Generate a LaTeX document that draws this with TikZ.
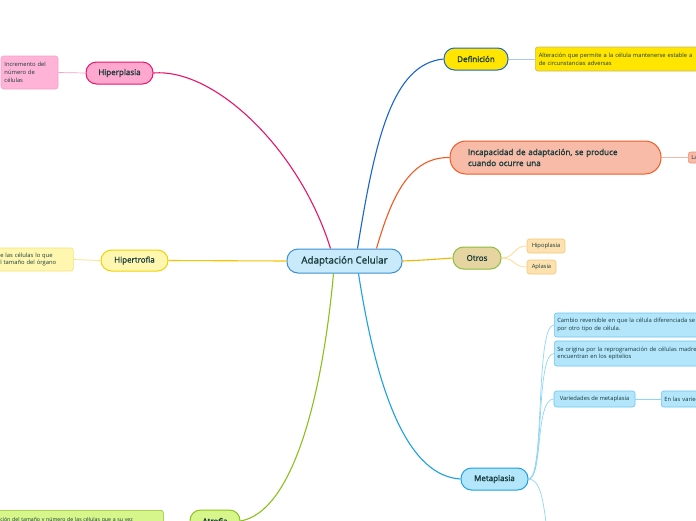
\documentclass[tikz,border=0pt]{standalone}
\usepackage{fontspec}
\setmainfont{Open Sans}
\newfontfamily\titlefont[FakeBold=1.3]{Open Sans}
\usetikzlibrary{calc}
\definecolor{txt}{HTML}{163A3A}
\definecolor{ctrfill}{HTML}{C8EAFB}\definecolor{ctrline}{HTML}{3B8FD3}
\definecolor{pinkline}{HTML}{E8156C}\definecolor{pinkfill}{HTML}{FFA8CF}\definecolor{pinkleaf}{HTML}{FFB3D6}\definecolor{pinklight}{HTML}{F5A0C8}
\definecolor{yelline}{HTML}{F2C500}\definecolor{yelfill}{HTML}{FFF7B0}\definecolor{yelborder}{HTML}{EFD300}\definecolor{yellight}{HTML}{F5E27A}
\definecolor{grnline}{HTML}{8CC11B}\definecolor{grnfill}{HTML}{D6F58A}
\definecolor{defline}{HTML}{1A66CC}\definecolor{deffill}{HTML}{FFE500}\definecolor{defleaf}{HTML}{C9B96A}\definecolor{deflight}{HTML}{A9C9F0}
\definecolor{incline}{HTML}{F05A23}\definecolor{incfill}{HTML}{F8BBA8}\definecolor{inclight}{HTML}{F8B8A8}
\definecolor{otrline}{HTML}{F2B500}\definecolor{otrfill}{HTML}{E6D4A1}\definecolor{otrborder}{HTML}{8CBF3A}
\definecolor{otrleaf}{HTML}{FDE2B0}\definecolor{otrleafb}{HTML}{F5C878}\definecolor{otrlight}{HTML}{FDD98A}
\definecolor{metline}{HTML}{1DA1E2}\definecolor{metfill}{HTML}{B3E5FB}\definecolor{metleafb}{HTML}{6CC6F0}\definecolor{metlight}{HTML}{8FD6F5}
\begin{document}
\begin{tikzpicture}[x=1pt,y=-1pt,
  mainnode/.style={draw, line width=1pt, rounded corners=10.5pt, minimum height=22pt, inner sep=2pt,
    font=\titlefont\fontsize{8}{9.5}\selectfont, text=txt},
  leafnode/.style={draw, line width=0.6pt, rounded corners=2.5pt, inner xsep=3pt, inner ysep=2pt,
    font=\fontsize{5.8}{7.8}\selectfont, text=txt, align=left},
  branch/.style={line width=1.1pt},
  twig/.style={line width=0.7pt}]
\useasboundingbox (0,0) rectangle (696,520);
\fill[white] (0,0) rectangle (696,520);

% central
\node[mainnode, fill=ctrfill, draw=ctrline, minimum width=115pt, minimum height=24pt, rounded corners=11pt,
  font=\titlefont\fontsize{9.8}{11}\selectfont] (ctr) at (344.5,261) {Adaptación Celular};

% Hiperplasia
\node[mainnode, fill=pinkfill, draw=pinkline, minimum width=67pt] (hpl) at (119.5,73) {Hiperplasia};
\node[leafnode, fill=pinkleaf, draw=pinklight, minimum width=57pt, minimum height=33pt, text width=50pt] (hplc) at (29.5,72.5)
  {Incremento del\\número de\\células};

% Hipertrofia
\node[mainnode, fill=yelfill, draw=yelborder, minimum width=67pt, minimum height=21pt] (hpt) at (134.5,260.5) {Hipertrofia};
\node[leafnode, fill=yelfill, draw=yellight, anchor=west, minimum width=76pt, minimum height=23pt, text width=70pt] (hptc) at (-3,259.5)
  {e las células lo que\\l tamaño del órgano};

% Atrofia
\node[mainnode, fill=grnfill, draw=grnline, minimum width=50pt] (atr) at (215,521) {Atrofia};
\node[leafnode, fill=grnfill, draw=grnline, anchor=north west, minimum width=166pt, minimum height=20pt, text width=160pt,
  font=\fontsize{5.2}{7.6}\selectfont] (atrc) at (-3,510)
  {ción del tamaño y número de las células que a su vez};

% Definicion
\node[mainnode, fill=deffill, draw=defline, minimum width=64pt] (def) at (476,59) {Definición};
\node[leafnode, fill=deffill, draw=defleaf, anchor=west, minimum width=185pt, minimum height=24pt, text width=178pt] (defc) at (535,59)
  {Alteración que permite a la célula mantenerse estable a\\de circunstancias adversas};

% Incapacidad
\node[mainnode, fill=incfill, draw=incline, minimum width=211pt, minimum height=33pt, rounded corners=16pt,
  text width=175pt, align=left, inner xsep=18pt, font=\titlefont\fontsize{8.1}{11}\selectfont] (inc) at (555.5,157.5)
  {Incapacidad de adaptación, se produce\\cuando ocurre una};
\node[leafnode, fill=incfill, draw=incline!70, anchor=west, minimum width=30pt, minimum height=11pt, inner ysep=1pt,
  text width=24pt] (incc) at (688,157.5) {La};

% Otros
\node[mainnode, fill=otrfill, draw=otrborder, minimum width=48pt] (otr) at (477,258) {Otros};
\node[leafnode, fill=otrleaf, draw=otrleafb, minimum width=38pt, minimum height=14pt] (hpo) at (546,246) {Hipoplasia};
\node[leafnode, fill=otrleaf, draw=otrleafb, minimum width=29pt, minimum height=14pt] (apl) at (541.5,267) {Aplasia};

% Metaplasia
\node[mainnode, fill=metfill, draw=metline, minimum width=67pt] (met) at (494.5,479) {Metaplasia};
\node[leafnode, fill=metfill, draw=metleafb, anchor=west, minimum width=170pt, minimum height=24pt, text width=164pt] (m1) at (554,325)
  {Cambio reversible en que la célula diferenciada se\\por otro tipo de célula.};
\node[leafnode, fill=metfill, draw=metleafb, anchor=west, minimum width=170pt, minimum height=25pt, text width=164pt] (m2) at (554,353.5)
  {Se origina por la reprogramación de células madre\\encuentran en los epitelios};
\node[leafnode, fill=metfill, draw=metleafb, minimum width=81pt, minimum height=16pt] (m3) at (594.5,399) {Variedades de metaplasia};
\node[leafnode, fill=metfill, draw=metleafb, anchor=west, minimum width=60pt, minimum height=16pt, text width=54pt] (m3a) at (661,399) {En las variedades};
\coordinate (m4) at (546,522);

% branches
\draw[branch, pinkline] (hpl.east) .. controls (215,68) and (300,150) .. ($(ctr.north)+(-14,0)$);
\draw[branch, yelline] (hpt.east) -- (ctr.west);
\draw[branch, grnline] ($(ctr.south)+(-11,0)$) .. controls (322,400) and (292,512) .. (atr.east);
\draw[branch, defline] ($(ctr.north)+(13,0)$) .. controls (375,140) and (392,64) .. (def.west);
\draw[branch, incline] ($(ctr.north)+(32,0)$) .. controls (392,195) and (410,157) .. (inc.west);
\draw[branch, otrline] (ctr.east) .. controls (425,260) .. (otr.west);
\draw[branch, metline] ($(ctr.south)+(14,0)$) .. controls (378,400) and (410,476) .. (met.west);

% twigs
\draw[twig, pinklight] (hplc.east) -- (hpl.west);
\draw[twig, yellight] (hptc.east) -- (hpt.west);
\draw[twig, deflight] (def.east) -- (defc.west);
\draw[twig, inclight] (inc.east) -- (incc.west);
\draw[twig, otrlight] (otr.east) .. controls (515,258) and (513,246) .. (hpo.west);
\draw[twig, otrlight] (otr.east) .. controls (515,258) and (513,267) .. (apl.west);
\draw[twig, metlight] (met.east) .. controls (545,479) and (535,325) .. (m1.west);
\draw[twig, metlight] (met.east) .. controls (545,479) and (535,353.5) .. (m2.west);
\draw[twig, metlight] (met.east) .. controls (543,479) and (535,399) .. (m3.west);
\draw[twig, metlight] (m3.east) -- (m3a.west);
\draw[twig, metlight] (met.east) .. controls (540,479) and (543,500) .. (m4);
\end{tikzpicture}
\end{document}
